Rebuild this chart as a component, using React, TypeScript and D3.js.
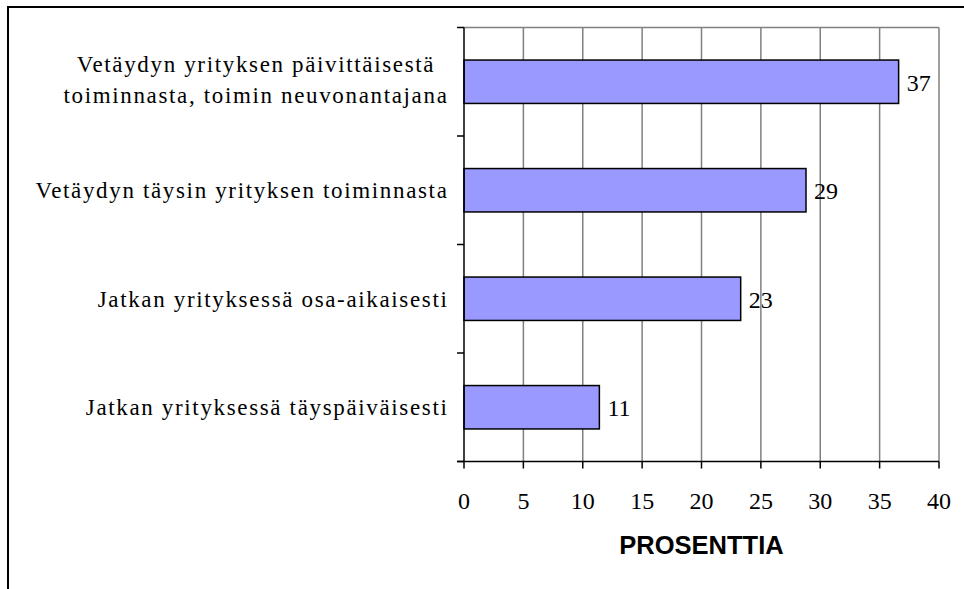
import React from "react";
import * as d3 from "d3";

const categories: string[][] = [
  ["Vetäydyn yrityksen päivittäisestä", "toiminnasta, toimin neuvonantajana"],
  ["Vetäydyn täysin yrityksen toiminnasta"],
  ["Jatkan yrityksessä osa-aikaisesti"],
  ["Jatkan yrityksessä täyspäiväisesti"],
];
const values: number[] = [36.6, 28.8, 23.3, 11.4];
const xTicks: number[] = [0, 5, 10, 15, 20, 25, 30, 35, 40];
const axisTitle = "PROSENTTIA";

const W = 964;
const H = 589;
const left = 464;
const right = 939;
const top = 27.5;
const bottom = 461.5;
const serif = "Liberation Serif";
const labelSize = 23;
const labelSpacing = 1.65;

export default function App() {
  const x = d3.scaleLinear().domain([0, 40]).range([left, right]);
  const keys = categories.map((_, i) => String(i));
  const y = d3.scaleBand().domain(keys).range([top, bottom]).paddingInner(0.6).paddingOuter(0.3);
  const boundaries = d3.range(keys.length + 1).map((i) => top + i * ((bottom - top) / keys.length));
  const fmt = d3.format(".0f");

  return (
    <svg width={W} height={H} style={{ position: "absolute", left: 0, top: 0 }}>
      <rect x={0} y={0} width={W} height={H} fill="#fff" />
      <rect x={8} y={7} width={W + 20} height={H + 20} fill="none" stroke="#000" strokeWidth={2} />
      {xTicks.slice(1).map((t) => (
        <line key={"g" + t} x1={x(t)} x2={x(t)} y1={top} y2={bottom} stroke="#808080" strokeWidth={1.5} />
      ))}
      <line x1={left} x2={right} y1={top} y2={top} stroke="#808080" strokeWidth={1.5} />
      {values.map((v, i) => (
        <rect
          key={"b" + i}
          x={x(0)}
          y={y(String(i))!}
          width={x(v) - x(0)}
          height={y.bandwidth()}
          fill="#9999FF"
          stroke="#000"
          strokeWidth={1.5}
        />
      ))}
      <line x1={left} x2={left} y1={top} y2={bottom} stroke="#000" strokeWidth={1.5} />
      <line x1={left - 7} x2={right} y1={bottom} y2={bottom} stroke="#000" strokeWidth={1.5} />
      {boundaries.map((b, i) => (
        <line key={"yt" + i} x1={left - 7} x2={left} y1={b} y2={b} stroke="#000" strokeWidth={1.5} />
      ))}
      {xTicks.map((t) => (
        <line key={"xt" + t} x1={x(t)} x2={x(t)} y1={bottom} y2={bottom + 7} stroke="#000" strokeWidth={1.5} />
      ))}
      {xTicks.map((t) => (
        <text key={"xl" + t} x={x(t)} y={509} textAnchor="middle" style={{ fontFamily: serif, fontSize: 24 }} fill="#000">
          {t}
        </text>
      ))}
      {values.map((v, i) => (
        <text
          key={"v" + i}
          x={x(v) + 8}
          y={y(String(i))! + y.bandwidth() / 2 + 9}
          style={{ fontFamily: serif, fontSize: 24 }}
          fill="#000"
        >
          {fmt(v)}
        </text>
      ))}
      {categories.map((lines, i) => {
        const cy = y(String(i))! + y.bandwidth() / 2;
        return <CenteredLines key={"c" + i} lines={lines} rightX={448.5} cy={cy} lh={31} />;
      })}
      <text
        x={(left + right) / 2}
        y={554}
        textAnchor="middle"
        style={{ fontFamily: "Liberation Sans", fontWeight: "bold", fontSize: 25.5 }}
        fill="#000"
      >
        {axisTitle}
      </text>
    </svg>
  );
}

function CenteredLines({ lines, rightX, cy, lh }: { lines: string[]; rightX: number; cy: number; lh: number }) {
  const ref = React.useRef<SVGGElement>(null);
  const [cx, setCx] = React.useState<number | null>(null);
  React.useLayoutEffect(() => {
    if (!ref.current) return;
    const texts = ref.current.querySelectorAll("text");
    let maxW = 0;
    texts.forEach((t) => {
      maxW = Math.max(maxW, (t as SVGTextElement).getComputedTextLength());
    });
    setCx(rightX - maxW / 2);
  }, []);
  const n = lines.length;
  const base = n > 1 ? 5.5 : 8;
  return (
    <g ref={ref}>
      {lines.map((l, j) => (
        <text
          key={j}
          x={cx ?? rightX}
          y={cy + (j - (n - 1) / 2) * lh + base}
          textAnchor={cx === null ? "end" : "middle"}
          style={{ fontFamily: serif, fontSize: labelSize, letterSpacing: labelSpacing }}
          fill="#000"
        >
          {l}
        </text>
      ))}
    </g>
  );
}
